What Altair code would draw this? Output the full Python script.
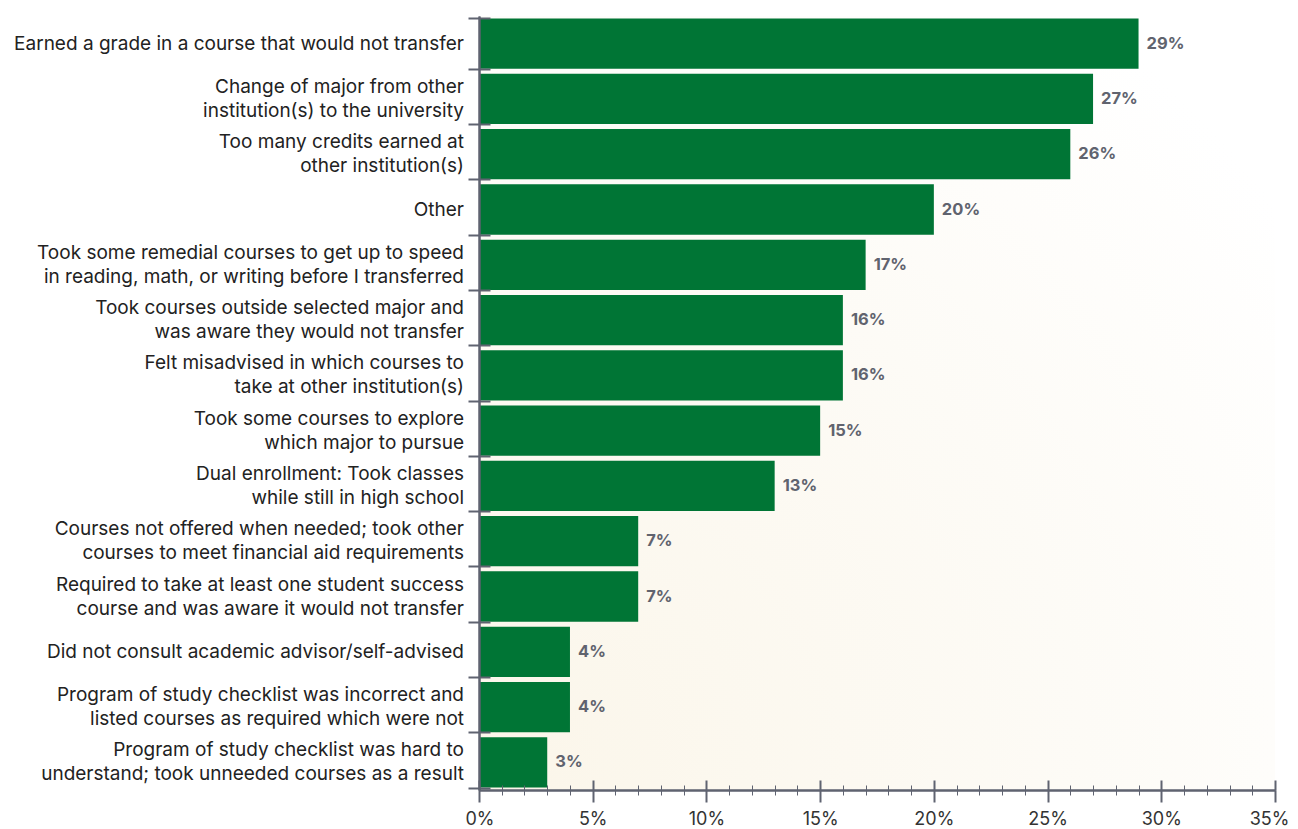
import altair as alt
import pandas as pd

categories = [
    "Earned a grade in a course that would not transfer",
    "Change of major from other\ninstitution(s) to the university",
    "Too many credits earned at\nother institution(s)",
    "Other",
    "Took some remedial courses to get up to speed\nin reading, math, or writing before I transferred",
    "Took courses outside selected major and\nwas aware they would not transfer",
    "Felt misadvised in which courses to\ntake at other institution(s)",
    "Took some courses to explore\nwhich major to pursue",
    "Dual enrollment: Took classes\nwhile still in high school",
    "Courses not offered when needed; took other\ncourses to meet financial aid requirements",
    "Required to take at least one student success\ncourse and was aware it would not transfer",
    "Did not consult academic advisor/self-advised",
    "Program of study checklist was incorrect and\nlisted courses as required which were not",
    "Program of study checklist was hard to\nunderstand; took unneeded courses as a result",
]
values = [29, 27, 26, 20, 17, 16, 16, 15, 13, 7, 7, 4, 4, 3]
x_ticks = list(range(0, 36))

df = pd.DataFrame({"category": categories, "value": values,
                   "label": [f"{v}%" for v in values]})

W, H = 796, 774
AXC = "#5f6370"
GREEN = "#007535"
FONT = "Inter"

xscale = alt.Scale(domain=[0, 35], nice=False, zero=True)
yscale = alt.Scale(domain=categories, paddingInner=0.09, paddingOuter=0.045)

major = "datum.value % 5 === 0"

x_bottom = alt.Axis(
    values=x_ticks, title=None, grid=False, orient="bottom", zindex=1,
    tickSize={"condition": {"test": major, "value": 12}, "value": 5},
    tickWidth={"condition": {"test": major, "value": 2}, "value": 1},
    labelExpr=f"{major} ? datum.value + '%' : ''",
    labelOverlap=False, labelFlush=True, labelFlushOffset=14,
    labelPadding=8, labelFontSize=18,
    labelColor="#333333", labelFont=FONT,
    domainColor=AXC, domainWidth=2, tickColor=AXC,
)
x_top = alt.Axis(
    values=x_ticks, title=None, grid=False, orient="top", offset=-H, zindex=1,
    tickSize={"condition": {"test": major, "value": 10}, "value": 5},
    tickWidth={"condition": {"test": major, "value": 2}, "value": 1},
    labels=False, domainColor=AXC, domainWidth=2, tickColor=AXC,
)
y_left = alt.Axis(
    title=None, orient="left", tickBand="extent", tickSize=11, tickWidth=2,
    tickColor=AXC, domainColor=AXC, domainWidth=2, zindex=1, labels=False,
)
y_right = alt.Axis(
    title=None, orient="right", offset=-W, tickBand="extent", tickSize=11,
    tickWidth=2, tickColor=AXC, domainColor=AXC, domainWidth=2, labels=False,
    zindex=1,
)

bg = alt.Chart(pd.DataFrame({"a": [0]})).mark_rect(
    fill=alt.Gradient(
        gradient="radial",
        stops=[alt.GradientStop(color="#fbf6ea", offset=0),
               alt.GradientStop(color="#fdfbf6", offset=0.6),
               alt.GradientStop(color="#ffffff", offset=1)],
        x1=0.04, y1=0.97, r1=0, x2=0.04, y2=0.97, r2=1.2,
    )
).encode(x=alt.value(0), x2=alt.value(W), y=alt.value(0), y2=alt.value(H))

bars = alt.Chart(df).mark_bar(color=GREEN).encode(
    x=alt.X("value:Q", scale=xscale, axis=x_bottom),
    y=alt.Y("category:N", sort=None, scale=yscale, axis=y_left),
)

text = alt.Chart(df).mark_text(
    align="left", baseline="middle", dx=8, fontWeight="bold", fontSize=16.5,
    color="#60636e", font=FONT,
).encode(
    x=alt.X("value:Q", scale=xscale, axis=x_top),
    y=alt.Y("category:N", sort=None, scale=yscale, axis=y_right),
    text="label:N",
)

cat_style = dict(align="right", baseline="middle", fontSize=19, color="#222222",
                 font=FONT, lineBreak="\n", lineHeight=24)
cat_one = alt.Chart(df).transform_filter(
    "indexof(datum.category, '\\n') < 0"
).mark_text(**cat_style).encode(
    x=alt.value(-15),
    y=alt.Y("category:N", sort=None, scale=yscale, axis=None),
    text="category:N",
)
cat_two = alt.Chart(df).transform_filter(
    "indexof(datum.category, '\\n') >= 0"
).mark_text(dy=-12, **cat_style).encode(
    x=alt.value(-15),
    y=alt.Y("category:N", sort=None, scale=yscale, axis=None),
    text="category:N",
)

chart = alt.layer(bg, bars, text, cat_one, cat_two).resolve_scale(
    x="shared", y="shared"
).resolve_axis(x="independent", y="independent").properties(
    width=W, height=H,
    autosize=alt.AutoSizeParams(type="none"),
    padding={"left": 471, "top": 8, "right": 15, "bottom": 37},
).configure_view(stroke=None)

chart.save("out.html", embed_options={"renderer": "svg", "actions": False})
